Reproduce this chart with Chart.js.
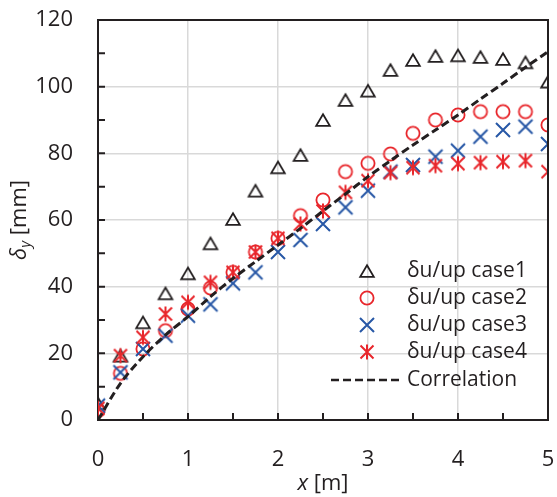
<!DOCTYPE html>
<html>
<head>
<meta charset="utf-8">
<script src="https://cdn.jsdelivr.net/npm/chart.js@4.4.1/dist/chart.umd.min.js"></script>
<style>
  html, body { margin: 0; padding: 0; background: #fff; }
  #wrap { width: 557px; height: 497px; }
</style>
</head>
<body>
<div id="wrap"><canvas id="chart"></canvas></div>
<script>
// x positions along the wall [m]
const xValues = [0, 0.25, 0.5, 0.75, 1, 1.25, 1.5, 1.75, 2, 2.25, 2.5, 2.75, 3, 3.25, 3.5, 3.75, 4, 4.25, 4.5, 4.75, 5];

// measured deflections [mm]
const case1 = [5, 19.3, 29.3, 38, 44, 53, 60.3, 68.8, 75.8, 79.5, 90, 96, 98.8, 105, 108, 109.2, 109.4, 108.9, 108.3, 107.3, 101.5];
const case2 = [2.8, 14, 21.3, 26.8, 33.3, 39.6, 44.3, 50.4, 54.5, 61.3, 66, 74.5, 77, 79.8, 86, 90, 91.5, 92.5, 92.5, 92.5, 88.5];
const case3 = [4.3, 14.3, 21.3, 25.3, 31.3, 34.7, 41, 44.3, 50.4, 54, 58.8, 63.8, 68.8, 74.5, 76.5, 79, 80.8, 85, 87, 88, 82.8];
const case4 = [3.5, 19.3, 24.8, 31.8, 35.3, 41.3, 44.3, 50.4, 54.5, 58.8, 62.7, 68.3, 71.8, 74.2, 75.7, 76.3, 76.9, 77.2, 77.5, 77.8, 74.5];
const correlation = [0, 11, 19, 25.5, 31, 37, 42.5, 47.5, 52.5, 57.5, 62.7, 67.8, 73, 77.8, 82.5, 87, 91.5, 96.3, 101, 105.8, 110.5];

const seriesNames = ['δu/up case1', 'δu/up case2', 'δu/up case3', 'δu/up case4', 'Correlation'];
const xTicks = [0, 1, 2, 3, 4, 5];
const yTicks = [0, 20, 40, 60, 80, 100, 120];

const INK = '#231f20';
const RED = '#e8262b';
const BLUE = '#2757a6';
const GRID = '#d9d9d9';
const FONT = '"Open Sans"';

// excel-like markers drawn onto small canvases
function makeMarker(kind, color) {
  const c = document.createElement('canvas');
  c.width = 20; c.height = 20;
  const g = c.getContext('2d');
  g.strokeStyle = color;
  g.lineWidth = 1.8;
  g.beginPath();
  if (kind === 'triangle') {
    g.moveTo(10, 4.2);
    g.lineTo(16.8, 15.8);
    g.lineTo(3.2, 15.8);
    g.closePath();
  } else if (kind === 'circle') {
    g.arc(10, 10, 6.6, 0, Math.PI * 2);
  } else if (kind === 'cross') {
    g.lineWidth = 2;
    g.moveTo(3, 3); g.lineTo(17, 17);
    g.moveTo(17, 3); g.lineTo(3, 17);
  } else {
    g.lineWidth = 2;
    g.moveTo(3.5, 3.5); g.lineTo(16.5, 16.5);
    g.moveTo(16.5, 3.5); g.lineTo(3.5, 16.5);
    g.moveTo(10, 2.5); g.lineTo(10, 17.5);
  }
  g.stroke();
  return c;
}

const markers = [
  makeMarker('triangle', INK),
  makeMarker('circle', RED),
  makeMarker('cross', BLUE),
  makeMarker('star', RED)
];

function pts(ys) {
  return xValues.map((x, i) => ({ x: x, y: ys[i] }));
}

function pointSet(i, ys, order) {
  return {
    label: seriesNames[i],
    data: pts(ys),
    pointStyle: markers[i],
    pointRadius: 8,
    showLine: false,
    order: order
  };
}

const extras = {
  id: 'extras',
  beforeDatasetsDraw(chart) {
    const ctx = chart.ctx;
    const a = chart.chartArea;
    const xs = chart.scales.x, ys = chart.scales.y;
    ctx.save();
    ctx.setLineDash([]);
    ctx.strokeStyle = INK;
    ctx.lineWidth = 2;
    ctx.beginPath();
    // inward tick marks
    for (let v = 0; v <= 120; v += 10) {
      const py = ys.getPixelForValue(v);
      ctx.moveTo(a.left, py); ctx.lineTo(a.left + 7, py);
    }
    for (let v = 0; v <= 5; v += 0.5) {
      const px = xs.getPixelForValue(v);
      ctx.moveTo(px, a.bottom); ctx.lineTo(px, a.bottom - 7);
    }
    ctx.stroke();
    ctx.restore();
  },
  afterDraw(chart) {
    const ctx = chart.ctx;
    const a = chart.chartArea;
    ctx.save();
    ctx.setLineDash([]);
    ctx.globalAlpha = 1;

    // top and right frame
    ctx.fillStyle = INK;
    ctx.fillRect(a.left, a.top - 1, a.right - a.left + 1, 2);
    ctx.fillRect(a.right - 1, a.top - 1, 2, a.bottom - a.top + 2);

    ctx.textBaseline = 'middle';

    // legend
    const rowY = [271, 298, 325, 352, 380];
    ctx.font = `21px ${FONT}`;
    for (let i = 0; i < 5; i++) {
      if (i < 4) {
        ctx.drawImage(markers[i], 367 - 10, rowY[i] - 10);
      } else {
        ctx.strokeStyle = INK;
        ctx.lineWidth = 2.5;
        ctx.setLineDash([8, 4]);
        ctx.beginPath();
        ctx.moveTo(331, rowY[i]); ctx.lineTo(401, rowY[i]);
        ctx.stroke();
        ctx.setLineDash([]);
      }
      ctx.fillText(seriesNames[i], 407, rowY[i]);
    }

    // x axis title
    const big = `22px ${FONT}`, bigIt = `italic 22px ${FONT}`;
    ctx.font = bigIt;
    const wx = ctx.measureText('x').width;
    ctx.font = big;
    const wRest = ctx.measureText(' [m]').width;
    let sx = (a.left + a.right) / 2 - (wx + wRest) / 2;
    ctx.textAlign = 'left';
    ctx.font = bigIt; ctx.fillText('x', sx, 484);
    ctx.font = big; ctx.fillText(' [m]', sx + wx, 484);

    // y axis title (rotated, with subscript)
    ctx.translate(20, (a.top + a.bottom) / 2);
    ctx.rotate(-Math.PI / 2);
    const small = `italic 15px ${FONT}`;
    ctx.font = bigIt; const wd = ctx.measureText('δ').width;
    ctx.font = small; const wy = ctx.measureText('y').width;
    ctx.font = big; const wm = ctx.measureText(' [mm]').width;
    let s = -(wd + wy + wm) / 2;
    ctx.font = bigIt; ctx.fillText('δ', s, 0);
    ctx.font = small; ctx.fillText('y', s + wd, 6);
    ctx.font = big; ctx.fillText(' [mm]', s + wd + wy, 0);
    ctx.restore();
  }
};

new Chart(document.getElementById('chart'), {
  type: 'scatter',
  data: {
    datasets: [
      pointSet(0, case1, 5),
      pointSet(1, case2, 4),
      pointSet(2, case3, 3),
      pointSet(3, case4, 2),
      {
        label: seriesNames[4],
        data: pts(correlation),
        showLine: true,
        borderColor: INK,
        borderWidth: 3,
        borderDash: [8, 4],
        pointRadius: 0,
        tension: 0.3,
        order: 1
      }
    ]
  },
  options: {
    responsive: true,
    maintainAspectRatio: false,
    animation: false,
    layout: { padding: { top: 20, right: 7, left: 0, bottom: 0 } },
    plugins: { legend: { display: false }, tooltip: { enabled: false } },
    scales: {
      x: {
        type: 'linear',
        min: 0, max: 5,
        afterFit: s => { s.height = 77; s.paddingLeft = 0; s.paddingRight = 0; },
        afterBuildTicks: s => { s.ticks = xTicks.map(v => ({ value: v })); },
        ticks: { color: INK, font: { family: FONT, size: 22 }, padding: 27 },
        grid: { drawTicks: false, color: GRID, lineWidth: 1.5 },
        border: { color: INK, width: 2 }
      },
      y: {
        min: 0, max: 120,
        afterFit: s => { s.width = 98; s.paddingTop = 0; s.paddingBottom = 0; },
        afterBuildTicks: s => { s.ticks = yTicks.map(v => ({ value: v })); },
        ticks: { color: INK, font: { family: FONT, size: 22 }, padding: 25 },
        grid: { drawTicks: false, color: GRID, lineWidth: 1.5 },
        border: { color: INK, width: 2 }
      }
    }
  },
  plugins: [extras]
});
</script>
</body>
</html>
